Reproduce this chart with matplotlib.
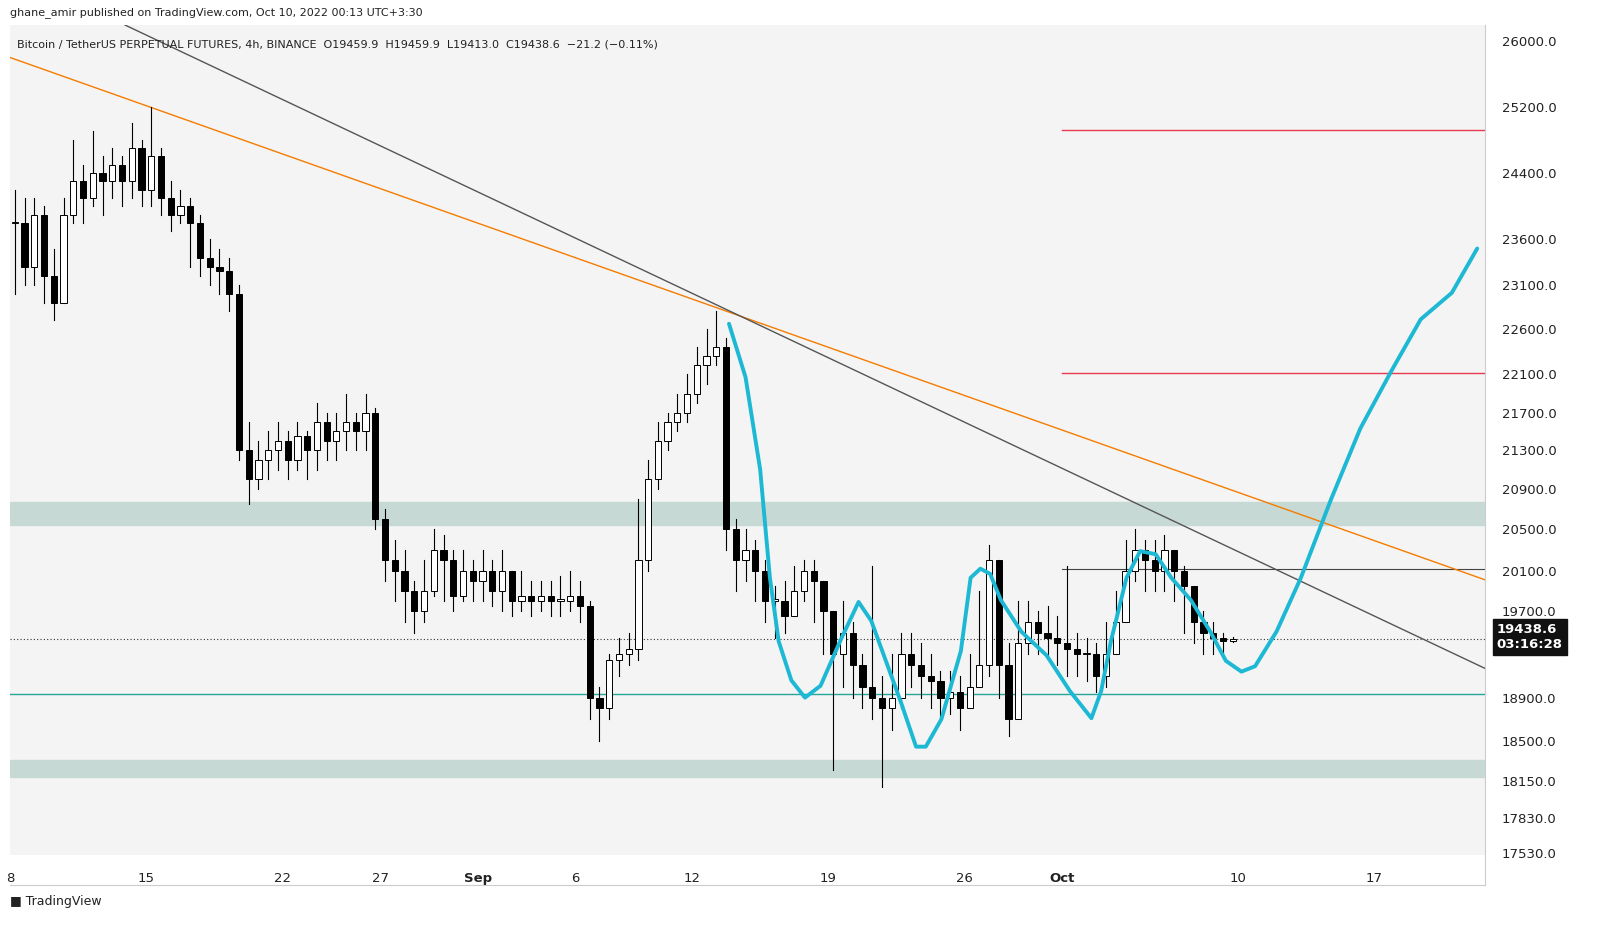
import matplotlib
matplotlib.use("Agg")
import matplotlib.pyplot as plt
import numpy as np

# ---- data (12h candles, day 0 = Aug 8) ----
closes = [23800, 23300, 23900, 23200, 22900, 23900, 24300, 24100, 24400, 24300,
          24500, 24300, 24700, 24200, 24600, 24100, 23900, 24000, 23800, 23400,
          23300, 23250, 23000, 21300, 21000, 21200, 21300, 21400, 21200, 21450,
          21300, 21600, 21400, 21500, 21600, 21500, 21700, 20600, 20200, 20100,
          19900, 19700, 19900, 20300, 20200, 19850, 20100, 20000, 20100, 19900,
          20100, 19800, 19850, 19800, 19850, 19800, 19800, 19850, 19750, 18900,
          18800, 19250, 19300, 19350, 20200, 21000, 21400, 21600, 21700, 21900,
          22200, 22300, 22400, 20500, 20200, 20300, 20100, 19800, 19800, 19650,
          19900, 20100, 20000, 19700, 19300, 19500, 19200, 19000, 18900, 18800,
          18900, 19300, 19200, 19100, 19050, 18900, 18950, 18800, 19000, 19200,
          20200, 19200, 18700, 19400, 19600, 19500, 19450, 19400, 19350, 19300,
          19300, 19100, 19300, 19600, 20100, 20300, 20200, 20100, 20300, 20100,
          19950, 19600, 19500, 19450, 19420, 19438.6]
highs = [24200, 24100, 24100, 24000, 23500, 24100, 24800, 24500, 24900, 24600,
         24700, 24600, 25000, 24800, 25200, 24700, 24300, 24200, 24100, 23900,
         23600, 23500, 23400, 23100, 21600, 21400, 21500, 21600, 21500, 21600,
         21500, 21800, 21700, 21700, 21900, 21700, 21900, 21750, 20700, 20400,
         20300, 20000, 20200, 20500, 20450, 20300, 20300, 20200, 20300, 20200,
         20300, 20100, 20100, 20000, 20000, 20000, 20050, 20100, 20000, 19800,
         19000, 19300, 19450, 19500, 20800, 21200, 21600, 21700, 21900, 22100,
         22400, 22600, 22800, 22500, 20600, 20500, 20400, 20200, 19950, 20000,
         20150, 20200, 20200, 20000, 19700, 19800, 19600, 19300, 20150, 19100,
         19300, 19500, 19500, 19400, 19300, 19150, 19150, 19100, 19300, 19900,
         20350, 20200, 19400, 19800, 19800, 19700, 19750, 19650, 20150, 19500,
         19450, 19400, 19600, 19900, 20400, 20500, 20400, 20400, 20450, 20300,
         20150, 19950, 19700, 19600, 19500, 19459.9]
lows = [23000, 23100, 23100, 22900, 22700, 22900, 23800, 23800, 24000, 23900,
        24100, 24000, 24100, 24000, 24000, 23900, 23700, 23800, 23300, 23200,
        23100, 23000, 22800, 21200, 20750, 20900, 21000, 21100, 21000, 21100,
        21000, 21100, 21200, 21200, 21300, 21300, 21300, 20500, 20000, 19800,
        19600, 19500, 19600, 19850, 19800, 19700, 19800, 19800, 19800, 19750,
        19700, 19650, 19700, 19650, 19700, 19650, 19650, 19700, 19600, 18700,
        18500, 18700, 19100, 19200, 19250, 20100, 20900, 21300, 21500, 21600,
        21800, 22000, 22200, 20300, 19900, 20000, 19800, 19600, 19450, 19500,
        19650, 19800, 19600, 19300, 18250, 19000, 18900, 18800, 18700, 18100,
        18600, 18800, 19000, 18900, 18800, 18700, 18750, 18600, 18800, 19000,
        19100, 18900, 18550, 18700, 19300, 19300, 19250, 19200, 19100, 19100,
        19050, 18950, 19000, 19300, 19600, 20000, 19900, 19900, 19900, 19800,
        19500, 19400, 19300, 19300, 19300, 19413.0]

# projection curve (day, price)
proj_day = [36.9, 37.75, 38.5, 39.0, 39.45, 40.1, 40.8, 41.6, 42.6, 43.55, 44.2,
            44.95, 45.7, 46.5, 47.0, 47.8, 48.8, 49.3, 49.8, 50.3, 50.85, 51.9,
            53.2, 54.4, 55.5, 56.0, 56.5, 57.3, 58.0, 58.8, 59.6, 60.6, 61.6,
            62.4, 63.2, 63.9, 65.0, 66.25, 67.8, 69.3, 70.9, 72.4, 74.0, 75.3]
proj_price = [22660, 22070, 21100, 20030, 19420, 19060, 18900, 19010, 19420,
              19790, 19610, 19240, 18870, 18450, 18450, 18700, 19330, 20030,
              20120, 20070, 19810, 19510, 19290, 18960, 18710, 18960, 19420,
              20030, 20290, 20260, 20030, 19810, 19510, 19240, 19140, 19190,
              19510, 20030, 20800, 21530, 22140, 22710, 23010, 23500]

tick_prices = [17530, 17830, 18150, 18500, 18900, 19700, 20100, 20500, 20900,
               21300, 21700, 22100, 22600, 23100, 23600, 24400, 25200, 26000]
tick_days = [0, 7, 14, 19, 24, 29, 35, 42, 49, 54, 63, 70]
tick_labels = ["8", "15", "22", "27", "Sep", "6", "12", "19", "26", "Oct", "10", "17"]

# price -> screen mapping (pixel rows)
map_p = [17000] + tick_prices + [27000]
map_y = [912, 851, 817, 780, 740, 697, 611, 571, 530, 490, 451, 414, 376, 331,
         287, 242, 176, 110, 45, -35]
neg_y = [-v for v in map_y]


def fwd(p):
    return np.interp(p, map_p, neg_y)


def inv(v):
    return np.interp(v, neg_y, map_p)


W, H = 1619, 949
fig = plt.figure(figsize=(W / 100, H / 100), dpi=100)
ax = fig.add_axes([10 / W, 1 - 855 / H, 1475 / W, 830 / H])
ax.set_facecolor("#f4f4f4")
ax.set_yscale("function", functions=(fwd, inv))
ax.set_ylim(17510, 26200)
ax.set_xlim(0, 75.7)

# zones
ax.axhspan(20540, 20770, color="#c6d9d5", zorder=1)
ax.axhspan(18190, 18330, color="#c6d9d5", zorder=1)
ax.axhline(18930, color="#26a69a", lw=1, zorder=2)
ax.axhline(19438.6, color="#333333", lw=0.8, ls=(0, (1, 2)), zorder=2)
ax.plot([54, 75.7], [24920, 24920], color="#e53950", lw=1, zorder=2)
ax.plot([54, 75.7], [22120, 22120], color="#e53950", lw=1, zorder=2)
ax.plot([54, 75.7], [20120, 20120], color="#444444", lw=0.8, zorder=2)

# trend lines
ax.plot([0, 75.7], [25800, 20010], color="#f57c00", lw=1, zorder=3)
ax.plot([5.9, 75.7], [26200, 19170], color="#555555", lw=1, zorder=3)

# candles
opens = [closes[0]] + closes[:-1]
for i, (o, h, l, c) in enumerate(zip(opens, highs, lows, closes)):
    x = i * 0.5 + 0.25
    ax.plot([x, x], [l, h], color="black", lw=0.8, zorder=4)
    lo, hi = min(o, c), max(o, c)
    if hi - lo < 15:
        hi = lo + 15
    face = "white" if c >= o else "black"
    ax.add_patch(plt.Rectangle((x - 0.16, lo), 0.32, hi - lo, facecolor=face,
                               edgecolor="black", lw=0.7, zorder=5))

# projection
ax.plot(proj_day, proj_price, color="#1cb8d4", lw=2.8, solid_capstyle="round",
        solid_joinstyle="round", zorder=6)

ax.set_xticks(tick_days)
ax.set_xticklabels(tick_labels, fontsize=9.5, color="#222222")
for lab in ax.get_xticklabels():
    if lab.get_text() in ("Sep", "Oct"):
        lab.set_fontweight("bold")
ax.yaxis.tick_right()
ax.set_yticks(tick_prices)
ax.set_yticklabels([f"{p:.1f}" for p in tick_prices], fontsize=9.5, color="#222222")
ax.yaxis.set_minor_locator(matplotlib.ticker.NullLocator())
ax.tick_params(length=0, pad=12)
for s in ax.spines.values():
    s.set_visible(False)

# current price label
yfrac = (fwd(19438.6) - fwd(17510)) / (fwd(26200) - fwd(17510))
ax.text(1.008, yfrac + 0.003, "19438.6\n03:16:28", transform=ax.transAxes,
        fontsize=9.5, color="white", fontweight="bold", va="center", ha="left",
        linespacing=1.2,
        bbox=dict(boxstyle="square,pad=0.3", fc="#111111", ec="#111111"))

ax.text(0.005, 0.982, "Bitcoin / TetherUS PERPETUAL FUTURES, 4h, BINANCE  O19459.9  "
        "H19459.9  L19413.0  C19438.6  \u221221.2 (\u22120.11%)",
        transform=ax.transAxes, fontsize=8, color="#222222", va="top")

fig.text(10 / W, 1 - 13 / H, "ghane_amir published on TradingView.com, Oct 10, 2022 00:13 UTC+3:30",
         fontsize=8, color="#222222", va="center")
fig.text(10 / W, 1 - 901 / H, "\u25a0 TradingView", fontsize=9, color="#222222", va="center")
fig.add_artist(plt.Line2D([10 / W, 1485 / W], [1 - 885 / H] * 2, color="#cccccc", lw=0.8))
fig.add_artist(plt.Line2D([1485 / W] * 2, [1 - 25 / H, 1 - 885 / H], color="#cccccc", lw=0.8))

fig.savefig("out.png", dpi=100, facecolor="white")
